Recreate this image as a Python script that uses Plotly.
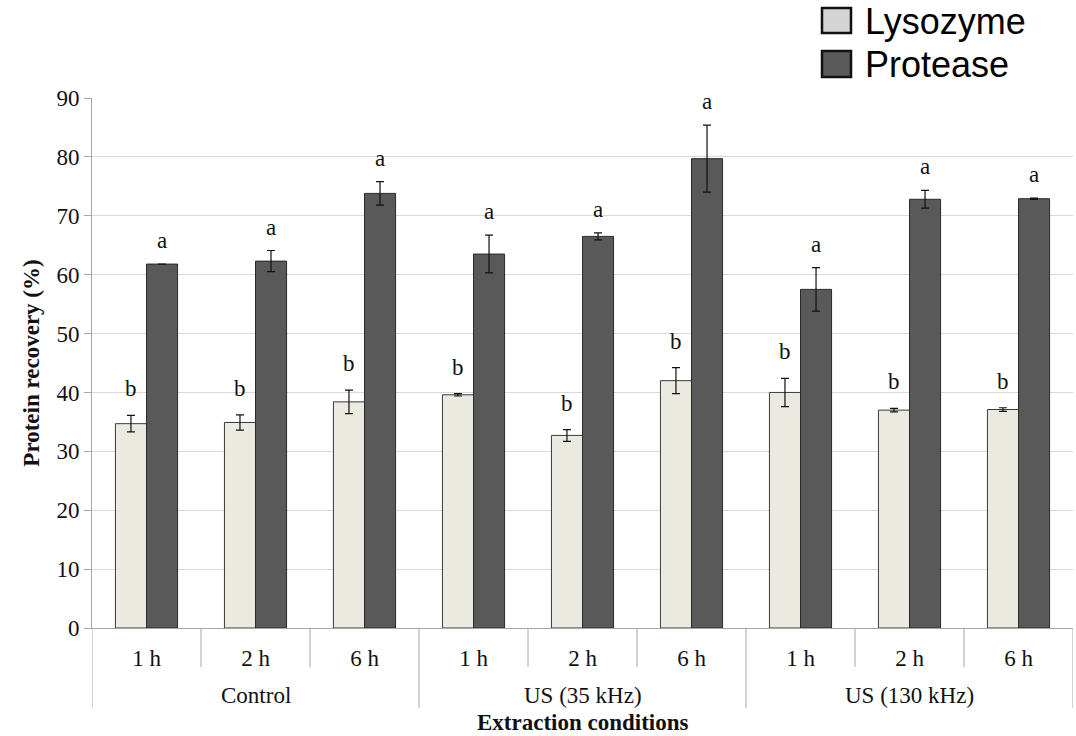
import plotly.graph_objects as go

# Extraction conditions and times
conditions = ["Control", "US (35 kHz)", "US (130 kHz)"]
times = ["1 h", "2 h", "6 h"]

# Protein recovery (%) per condition/time, with error bars
lysozyme = [34.7, 34.9, 38.4, 39.6, 32.7, 42.0, 40.0, 37.0, 37.1]
lysozyme_err = [1.4, 1.3, 2.0, 0.2, 1.0, 2.2, 2.4, 0.3, 0.3]
protease = [61.8, 62.3, 73.8, 63.5, 66.5, 79.7, 57.5, 72.8, 72.9]
protease_err = [0.0, 1.8, 2.0, 3.2, 0.6, 5.7, 3.7, 1.5, 0.1]

# Significance letters
lysozyme_letters = ["b"] * 9
protease_letters = ["a"] * 9

W, H = 1076, 736
L, R, T, B = 92, 3, 98, 108
plot_w = W - L - R
plot_h = H - T - B

def px_x(p):
    return (p - L) / plot_w

def px_y(p):
    return (H - B - p) / plot_h

SERIF = "Liberation Serif"
SANS = "Liberation Sans"
FS = 23
GRID = "#d9d9d9"
AXIS = "#a6a6a6"
LYS_FILL = "#ebeae1"
PRO_FILL = "#595959"
BARGAP = 0.43

n = len(conditions) * len(times)
xpos = list(range(n))
ticktext = [t for _ in conditions for t in times]

fig = go.Figure()
fig.add_trace(go.Bar(
    x=xpos, y=lysozyme, name="Lysozyme",
    marker=dict(color=LYS_FILL, line=dict(color="#3a3a3a", width=1)),
    error_y=dict(type="data", array=lysozyme_err, color="#111111", thickness=1.2, width=4),
    showlegend=False,
))
fig.add_trace(go.Bar(
    x=xpos, y=protease, name="Protease",
    marker=dict(color=PRO_FILL, line=dict(color="#2a2a2a", width=1)),
    error_y=dict(type="data", array=protease_err, color="#111111", thickness=1.2, width=4),
    showlegend=False,
))

# Letters above each bar
half = (1 - BARGAP) / 4
for i in range(n):
    for dx, v, e, txt, shift in ((-half, lysozyme[i], lysozyme_err[i], lysozyme_letters[i], 12),
                                 (half, protease[i], protease_err[i], protease_letters[i], 9)):
        fig.add_annotation(
            x=i + dx, y=v + e, xref="x", yref="y", text=txt, showarrow=False,
            yanchor="bottom", yshift=shift, font=dict(family=SERIF, size=FS, color="#111111"),
        )

# Group labels under the time labels
for g, cond in enumerate(conditions):
    fig.add_annotation(
        x=g * len(times) + (len(times) - 1) / 2, y=px_y(695), xref="x", yref="paper",
        text=cond, showarrow=False, yanchor="middle",
        font=dict(family=SERIF, size=FS, color="#111111"),
    )

# Category dividers below the axis
for k in range(n + 1):
    long = k % len(times) == 0
    fig.add_shape(
        type="line", xref="x", yref="paper",
        x0=k - 0.5, x1=k - 0.5, y0=0, y1=px_y(708 if long else 667),
        line=dict(color=AXIS, width=1),
    )

# Axis title
fig.add_annotation(
    x=0.5, y=px_y(722), xref="paper", yref="paper", text="<b>Extraction conditions</b>",
    showarrow=False, yanchor="middle", font=dict(family=SERIF, size=FS, color="#111111"),
)

# Legend drawn at the top right
legend_items = [("Lysozyme", "#d4d4d4", 8, 33), ("Protease", "#5a5a5a", 51, 77)]
for name, fill, y0, y1 in legend_items:
    fig.add_shape(
        type="rect", xref="paper", yref="paper",
        x0=px_x(822), x1=px_x(851), y0=px_y(y1), y1=px_y(y0),
        fillcolor=fill, line=dict(color="#111111", width=2.5),
    )
    fig.add_annotation(
        x=px_x(863), y=px_y((y0 + y1) / 2 + 1), xref="paper", yref="paper", text=name,
        showarrow=False, xanchor="left", yanchor="middle",
        font=dict(family=SANS, size=36, color="#000000"),
    )

fig.update_layout(
    width=W, height=H,
    margin=dict(l=L, r=R, t=T, b=B, autoexpand=False),
    paper_bgcolor="white", plot_bgcolor="white",
    barmode="group", bargap=BARGAP, bargroupgap=0,
    xaxis=dict(
        range=[-0.5, n - 0.5], tickmode="array", tickvals=xpos, ticktext=ticktext,
        ticks="outside", ticklen=9, tickcolor="rgba(0,0,0,0)",
        tickfont=dict(family=SERIF, size=FS, color="#111111"),
        showline=True, linecolor=AXIS, linewidth=1, showgrid=False, zeroline=False,
    ),
    yaxis=dict(
        range=[0, 90], tick0=0, dtick=10,
        ticks="outside", ticklen=7, tickcolor=AXIS,
        tickfont=dict(family=SERIF, size=FS, color="#111111"),
        showline=True, linecolor=AXIS, linewidth=1,
        showgrid=True, gridcolor=GRID, gridwidth=1, zeroline=False,
        title=dict(text="<b>Protein recovery (%)</b>", standoff=10,
                   font=dict(family=SERIF, size=FS, color="#111111")),
    ),
)

fig.write_html("out.html")
